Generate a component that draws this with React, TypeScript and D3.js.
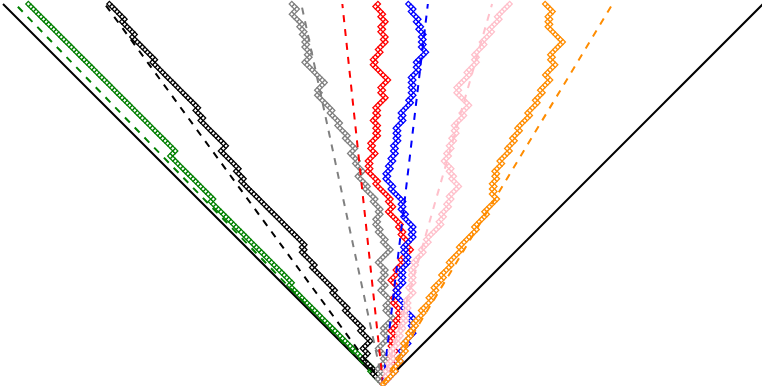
import React from "react";
import * as d3 from "d3";

const W = 762;
const H = 386;
const N_STEPS = 150;

// run-length step sequences (+n = n steps right, -n = n steps left)
const greenRuns = [-5, 1, -33, 1, -32, 1, -17, 2, -58];
const blackRuns = [-4, 1, -5, 2, -2, 3, -4, 1, -7, 1, -6, 1, -9, 1, -5, 1, -1, 1, -25, 1, -3, 1, -7, 2, -10, 1, -3, 1, -18, 1, -9, 1, -5, 1, -6];
const grayRuns = [-2, 2, -2, 3, -1, 1, -3, 4, -2, 1, -1, 4, -3, 1, -1, 2, -4, 2, -2, 2, -1, 1, -3, 5, -3, 1, -3, 1, -2, 1, -1, 2, -1, 1, -3, 1, -4, 1, -4, 2, -3, 1, -3, 2, -4, 1, -4, 1, -4, 1, -6, 1, -1, 3, -8, 2, -1, 1, -2, 1, -1, 1, -2, 1, -2, 1, -4, 2, -2];
const redRuns = [2, -1, 2, -1, 2, -1, 1, -1, 2, -2, 1, -1, 2, -2, 3, -1, 2, -1, 1, -3, 1, -1, 2, -1, 1, -3, 3, -1, 3, -1, 4, -2, 1, -3, 1, -2, 1, -5, 2, -2, 1, -6, 1, -4, 1, -1, 1, -1, 3, -2, 1, -1, 3, -1, 1, -1, 1, -2, 2, -1, 1, -1, 4, -2, 1, -1, 3, -6, 1, -1, 3, -1, 3, -1, 1, -2, 1, -1, 2, -2, 1, -3, 1];
const blueRuns = [5, -1, 3, -1, 2, -1, 3, -1, 3, -1, 1, -1, 1, -1, 1, -4, 1, -4, 1, -1, 3, -1, 1, -1, 1, -1, 3, -1, 1, -2, 1, -1, 4, -1, 1, -1, 1, -4, 1, -2, 1, -1, 1, -5, 1, -3, 1, -1, 2, -1, 2, -1, 2, -1, 1, -1, 2, -1, 1, -1, 1, -1, 3, -1, 1, -1, 4, -1, 2, -1, 1, -1, 1, -1, 1, -1, 3, -1, 1, -1, 4, -2, 1, -1, 1, -1, 1, -2, 1, -2, 1, -3, 1, -2];
const pinkRuns = [2, -1, 1, -1, 2, -1, 2, -1, 1, -1, 3, -1, 2, -1, 2, -1, 2, -1, 1, -1, 2, -1, 1, -1, 3, -2, 2, -1, 1, -1, 1, -1, 2, -1, 4, -1, 3, -1, 6, -1, 2, -1, 3, -1, 2, -1, 4, -3, 1, -2, 1, -3, 2, -1, 2, -1, 2, -1, 2, -1, 1, -1, 4, -1, 3, -5, 1, -1, 5, -1, 4, -1, 1, -1, 4, -1, 4, -1, 4, -1, 5];
const orangeRuns = [5, -1, 3, -1, 3, -1, 1, -1, 3, -1, 3, -1, 4, -1, 4, -1, 3, -1, 4, -1, 4, -1, 5, -1, 7, -1, 5, -1, 5, -2, 1, -1, 1, -1, 2, -1, 1, -1, 3, -1, 4, -1, 3, -1, 3, -1, 5, -1, 4, -1, 3, -1, 4, -2, 4, -2, 1, -1, 5, -6, 1, -1, 1, -1, 2, -3];

// mean drift (slope of the dashed expected path)
const drifts = [-0.968, -0.732, -0.215, -0.107, 0.118, 0.287, 0.604];
const colors = ["green", "black", "gray", "red", "blue", "pink", "darkorange"];
const walks = [greenRuns, blackRuns, grayRuns, redRuns, blueRuns, pinkRuns, orangeRuns];

function decode(runs: number[]): [number, number][] {
  const pts: [number, number][] = [[0, 0]];
  let t = 0;
  let x = 0;
  for (const r of runs) {
    const s = Math.sign(r);
    for (let k = 0; k < Math.abs(r); k++) {
      t += 1;
      x += s;
      pts.push([t, x]);
    }
  }
  return pts;
}

export default function App() {
  const xs = d3.scaleLinear().domain([-N_STEPS, N_STEPS]).range([3, 763]);
  const ys = d3.scaleLinear().domain([0, N_STEPS]).range([384, 4]);
  const line = d3
    .line<[number, number]>()
    .x((d) => xs(d[1]))
    .y((d) => ys(d[0]));
  const diamond = d3.symbol(d3.symbolSquare, 13)() as string;

  return (
    <svg
      width={W}
      height={H}
      style={{ position: "absolute", left: 0, top: 0, background: "white" }}
    >
      <line x1={xs(0)} y1={ys(0)} x2={xs(-N_STEPS)} y2={ys(N_STEPS)} stroke="black" strokeWidth={2} />
      <line x1={xs(0)} y1={ys(0)} x2={xs(N_STEPS)} y2={ys(N_STEPS)} stroke="black" strokeWidth={2} />
      {walks.map((runs, i) => {
        const pts = decode(runs);
        const c = colors[i];
        return (
          <g key={i}>
            <path d={line(pts) as string} fill="none" stroke={c} strokeWidth={1.2} />
            {pts.map((p, j) => (
              <path
                key={j}
                d={diamond}
                transform={`translate(${xs(p[1])},${ys(p[0])}) rotate(45)`}
                fill="white"
                stroke={c}
                strokeWidth={1.3}
              />
            ))}
            <line
              x1={xs(0)}
              y1={ys(0)}
              x2={xs(drifts[i] * N_STEPS)}
              y2={ys(N_STEPS)}
              stroke={c}
              strokeWidth={2}
              strokeDasharray="7,7"
            />
          </g>
        );
      })}
    </svg>
  );
}
